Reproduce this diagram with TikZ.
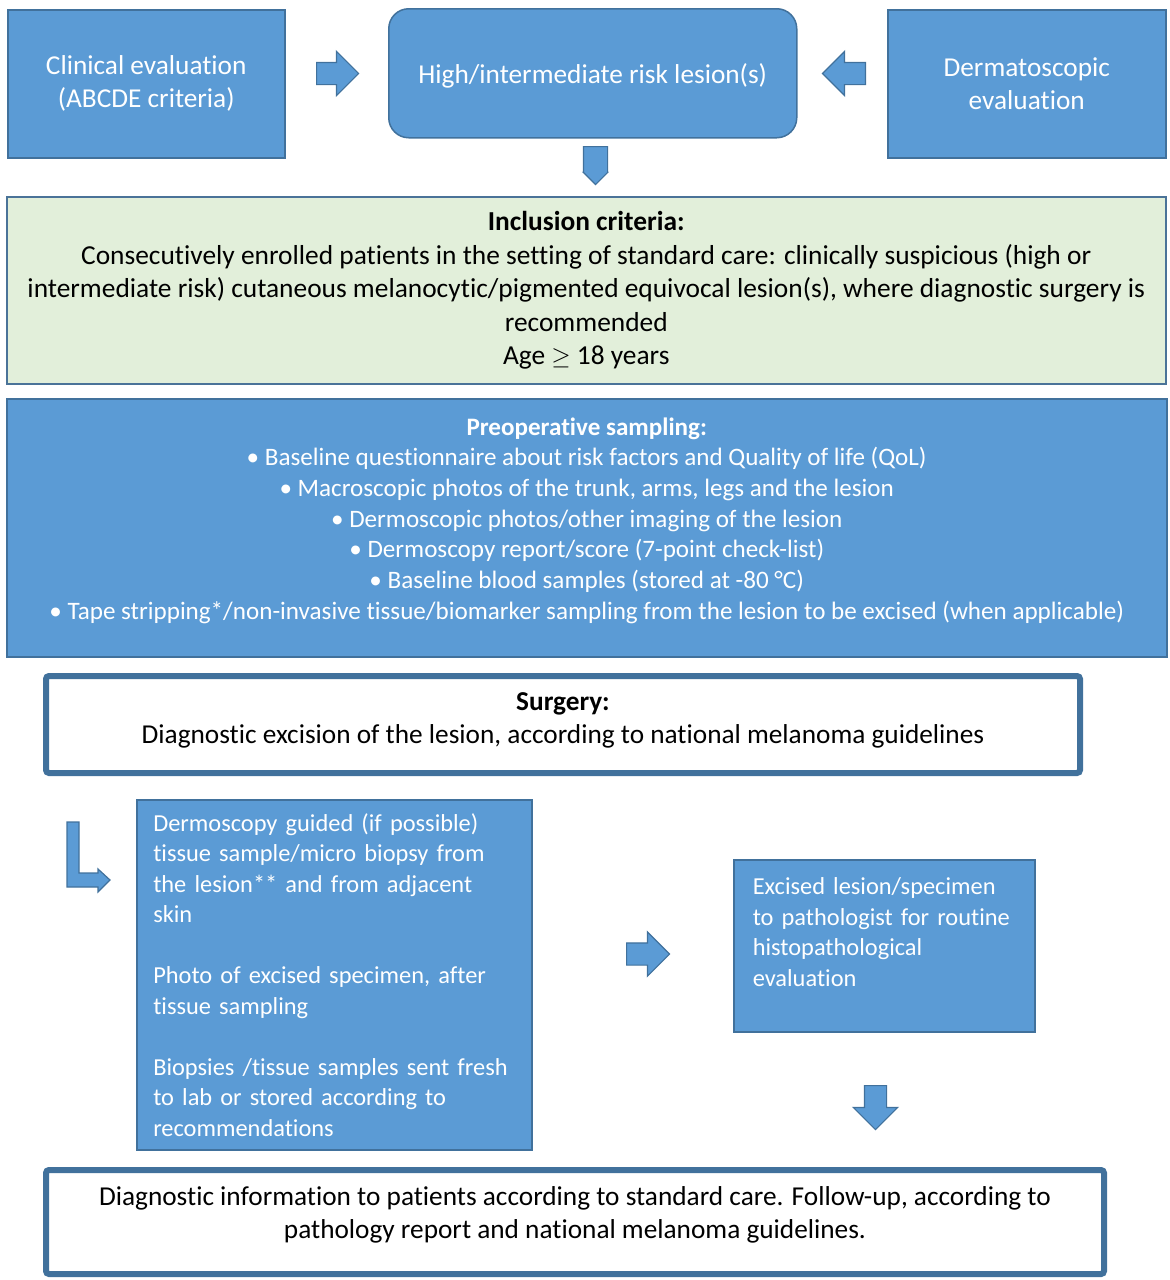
\documentclass[tikz,border=0pt]{standalone}
\usepackage{fontspec}
\setmainfont{Carlito}[Ligatures=NoCommon]
\usetikzlibrary{shapes.arrows,positioning}

\definecolor{boxblue}{HTML}{5B9BD5}
\definecolor{edgeblue}{HTML}{41719C}
\definecolor{palegreen}{HTML}{E2EFDA}

\tikzset{
  txt/.style={font=\fontsize{27.3}{33}\selectfont},
  bluebox/.style={txt,draw=edgeblue,line width=1.5pt,fill=boxblue,text=white,
    anchor=north west,inner sep=0pt,align=center},
  listtxt/.style={font=\fontsize{25.1}{30.7}\selectfont},
  smalltxt/.style={font=\fontsize{24.4}{30.5}\selectfont},
  greenbox/.style={draw=edgeblue!85!gray,line width=1.5pt,fill=palegreen,
    anchor=north west,inner sep=0pt,align=center,
    font=\fontsize{27.4}{33.5}\selectfont},
  whitebox/.style={txt,draw=edgeblue,line width=6pt,fill=white,rounded corners=3pt,
    anchor=north west,inner sep=0pt,align=center},
  blockarrow/.style={single arrow,draw=edgeblue,line width=1.2pt,fill=boxblue,
    anchor=tail,inner xsep=0pt,inner ysep=10.5pt,single arrow head extend=11pt},
  downarrow/.style={blockarrow,shape border rotate=270,inner xsep=10.5pt,inner ysep=0pt}
}

\begin{document}
\begin{tikzpicture}[x=1pt,y=-1pt]
\useasboundingbox (0,0) rectangle (1170,1280);

% top row
\node[bluebox,minimum width=277pt,minimum height=148pt] (clin) at (7,9)
  {Clinical evaluation\\(ABCDE criteria)};
\node[bluebox,rounded corners=20pt,minimum width=408pt,minimum height=129pt] (risk) at (388,8)
  {High/intermediate risk lesion(s)\\[-33pt]\mbox{}};
\node[bluebox,minimum width=278pt,minimum height=148pt] (derm) at (887,9)
  {Dermatoscopic\\evaluation};

\node[blockarrow,minimum height=42pt] (arrA) at (316,73.5) {};
\node[blockarrow,minimum height=43pt,shape border rotate=180] (arrB) at (866,73.5) {};
\node[downarrow,minimum height=38pt,inner xsep=11.5pt,single arrow head extend=0.01pt]
  (arrC) at (595.5,146) {};

% criteria and sampling
\node[greenbox,minimum width=1159pt,minimum height=187pt] (incl) at (6,196)
  {\textbf{Inclusion criteria:}\\
   Consecutively enrolled patients in the setting of standard care: clinically suspicious (high or\\
   intermediate risk) cutaneous melanocytic/pigmented equivocal lesion(s), where diagnostic surgery is\\
   recommended\\
   Age $\geq$ 18 years};

\node[bluebox,listtxt,minimum width=1160pt,minimum height=258pt] (preop) at (6,398)
  {\textbf{Preoperative sampling:}\\
   \textbullet{} Baseline questionnaire about risk factors and Quality of life (QoL)\\
   \textbullet{} Macroscopic photos of the trunk, arms, legs and the lesion\\
   \textbullet{} Dermoscopic photos/other imaging of the lesion\\
   \textbullet{} Dermoscopy report/score (7-point check-list)\\
   \textbullet{} Baseline blood samples (stored at -80 °C)\\
   \textbullet{} Tape stripping*/non-invasive tissue/biomarker sampling from the lesion to be excised (when applicable)\\[-12pt]\mbox{}};

\node[whitebox,minimum width=1034pt,minimum height=97pt] (surg) at (43,673)
  {\textbf{Surgery:}\\Diagnostic excision of the lesion, according to national melanoma guidelines\\[-20pt]\mbox{}};

% bent arrow into the sampling box
\draw[draw=edgeblue,line width=1.2pt,fill=boxblue]
  (67,822) -- (79,822) -- (79,873) -- (98,873) -- (98,869) -- (110,880)
  -- (98,892) -- (98,887) -- (67,887) -- cycle;

\node[bluebox,smalltxt,align=left,text width=362pt,inner xsep=16.5pt,minimum height=350pt] (tiss) at (136,799)
  {Dermoscopy guided (if possible)\\
   tissue sample/micro biopsy from\\
   the lesion** and from adjacent\\
   skin\\[30.5pt]
   Photo of excised specimen, after\\
   tissue sampling\\[30.5pt]
   Biopsies /tissue samples sent fresh\\
   to lab or stored according to\\
   recommendations};

\node[blockarrow,minimum height=43pt] (arrD) at (626,954) {};

\node[bluebox,smalltxt,align=left,text width=263pt,inner xsep=19pt,minimum height=172pt] (path) at (733,859)
  {Excised lesion/specimen\\
   to pathologist for routine\\
   histopathological\\
   evaluation\\[-3pt]\mbox{}};

\node[downarrow,minimum height=44pt] (arrE) at (875.5,1085) {};

\node[whitebox,minimum width=1058pt,minimum height=104pt] (info) at (43,1167)
  {Diagnostic information to patients according to standard care. Follow-up, according to\\
   pathology report and national melanoma guidelines.\\[-14pt]\mbox{}};
\end{tikzpicture}
\end{document}
